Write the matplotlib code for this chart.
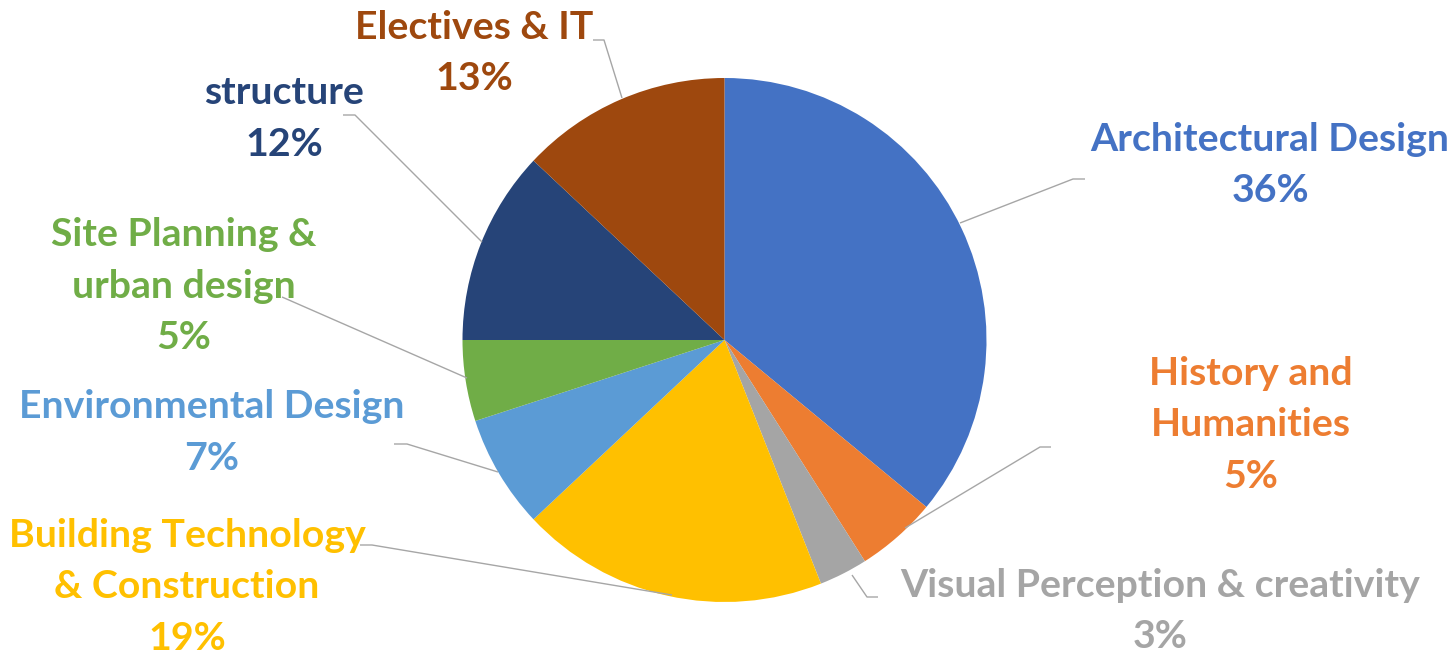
import matplotlib
matplotlib.use("Agg")
import matplotlib.pyplot as plt
from matplotlib.textpath import TextPath
from matplotlib.font_manager import FontProperties

# ---------------- data ----------------
categories = ["Architectural Design", "History and Humanities", "Visual Perception & creativity",
              "Building Technology & Construction", "Environmental Design",
              "Site Planning & urban design", "structure", "Electives & IT"]
label_lines = [["Architectural Design"], ["History and", "Humanities"],
               ["Visual Perception & creativity"], ["Building Technology", "& Construction"],
               ["Environmental Design"], ["Site Planning &", "urban design"],
               ["structure"], ["Electives & IT"]]
percents = [36, 5, 3, 19, 7, 5, 12, 13]
colors = ["#4472C4", "#ED7D31", "#A5A5A5", "#FFC000", "#5B9BD5", "#70AD47", "#264478", "#9E480E"]

# ---------------- layout (pixel coords, y down) ----------------
W, H = 1450, 655
center_px = (724.5, 340)
radius_px = 262
# label centre x and baseline y of first line
label_pos = [(1270, 151), (1251, 385), (1160, 597), (187, 547),
             (212, 418), (184, 246), (284, 104), (474, 39)]
line_step = 51.5
leaders = [
    [(960, 223), (1073, 179), (1085, 179)],
    [(905, 528), (1040, 447), (1051, 447)],
    [(852, 575), (867, 597), (878, 597)],
    [(672, 595), (372, 545), (360, 545)],
    [(498, 472), (407, 444), (394, 444)],
    [(467, 378), (282, 297)],
    [(482, 242), (355, 115), (343, 115)],
    [(622, 98), (604, 40), (593, 40)],
]

def Y(y):
    return H - y

fig = plt.figure(figsize=(W / 100, H / 100), dpi=100)
ax = fig.add_axes([0, 0, 1, 1])

ax.pie(percents, colors=colors, startangle=90, counterclock=False,
       center=(center_px[0], Y(center_px[1])), radius=radius_px,
       wedgeprops=dict(linewidth=0))

ax.set_xlim(0, W)
ax.set_ylim(0, H)
ax.set_aspect("auto")
ax.axis("off")

# leader lines
for pts in leaders:
    xs = [p[0] for p in pts]
    ys = [Y(p[1]) for p in pts]
    ax.plot(xs, ys, color="#A6A6A6", lw=1.0, solid_capstyle="butt", zorder=1)

# font size fitted to reference text widths
family = "Lato"
fp = FontProperties(family=family, weight="bold", size=100)
targets = {"Architectural Design": 354, "Visual Perception & creativity": 521,
           "Environmental Design": 384, "Building Technology": 350}
ratios = []
for t, wpx in targets.items():
    w = TextPath((0, 0), t, prop=fp).get_extents().width
    ratios.append(wpx * 72 / w)
fs = sum(ratios) / len(ratios)

for lines, pct, col, (cx, by) in zip(label_lines, percents, colors, label_pos):
    allines = lines + [f"{pct}%"]
    for i, ln in enumerate(allines):
        ax.text(cx, Y(by + i * line_step), ln, ha="center", va="baseline",
                color=col, fontsize=fs, fontfamily=family, fontweight="bold")

fig.savefig("out.png", dpi=100)
